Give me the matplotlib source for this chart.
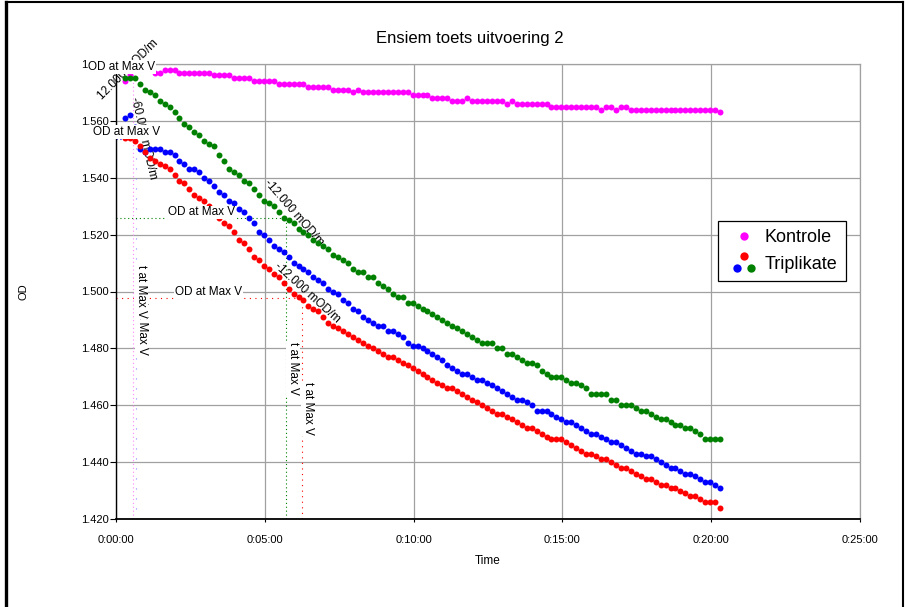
import numpy as np
import matplotlib
matplotlib.use('Agg')
import matplotlib.pyplot as plt
from matplotlib.lines import Line2D
from matplotlib.legend_handler import HandlerBase
from matplotlib.ticker import FuncFormatter, MultipleLocator

plt.rcParams['font.family'] = ['Liberation Sans', 'DejaVu Sans']

# sample times: first read at 18 s, then every 10 s
t_start = 18
t_step = 10

kontrole = [
    1.574, 1.576, 1.578, 1.578, 1.578, 1.578, 1.577, 1.577, 1.578, 1.578,
    1.578, 1.577, 1.577, 1.577, 1.577, 1.577, 1.577, 1.577, 1.576, 1.576,
    1.576, 1.576, 1.575, 1.575, 1.575, 1.575, 1.574, 1.574, 1.574, 1.574,
    1.574, 1.573, 1.573, 1.573, 1.573, 1.573, 1.573, 1.572, 1.572, 1.572,
    1.572, 1.572, 1.571, 1.571, 1.571, 1.571, 1.570, 1.571, 1.570, 1.570,
    1.570, 1.570, 1.570, 1.570, 1.570, 1.570, 1.570, 1.570, 1.569, 1.569,
    1.569, 1.569, 1.568, 1.568, 1.568, 1.568, 1.567, 1.567, 1.567, 1.568,
    1.567, 1.567, 1.567, 1.567, 1.567, 1.567, 1.567, 1.566, 1.567, 1.566,
    1.566, 1.566, 1.566, 1.566, 1.566, 1.566, 1.565, 1.565, 1.565, 1.565,
    1.565, 1.565, 1.565, 1.565, 1.565, 1.565, 1.564, 1.565, 1.565, 1.564,
    1.565, 1.565, 1.564, 1.564, 1.564, 1.564, 1.564, 1.564, 1.564, 1.564,
    1.564, 1.564, 1.564, 1.564, 1.564, 1.564, 1.564, 1.564, 1.564, 1.564,
    1.563]

rep_green = [
    1.575, 1.575, 1.575, 1.573, 1.571, 1.570, 1.569, 1.567, 1.566, 1.565,
    1.563, 1.561, 1.559, 1.558, 1.556, 1.555, 1.553, 1.552, 1.551, 1.548,
    1.546, 1.543, 1.542, 1.541, 1.539, 1.538, 1.536, 1.534, 1.532, 1.531,
    1.530, 1.528, 1.526, 1.525, 1.524, 1.522, 1.521, 1.520, 1.518, 1.517,
    1.516, 1.515, 1.513, 1.512, 1.511, 1.510, 1.508, 1.507, 1.507, 1.505,
    1.505, 1.503, 1.502, 1.501, 1.499, 1.498, 1.498, 1.496, 1.496, 1.495,
    1.494, 1.493, 1.492, 1.491, 1.490, 1.489, 1.488, 1.487, 1.486, 1.485,
    1.484, 1.483, 1.482, 1.482, 1.482, 1.480, 1.480, 1.478, 1.478, 1.477,
    1.476, 1.475, 1.475, 1.474, 1.472, 1.471, 1.470, 1.470, 1.470, 1.469,
    1.468, 1.468, 1.467, 1.466, 1.464, 1.464, 1.464, 1.464, 1.462, 1.462,
    1.460, 1.460, 1.460, 1.459, 1.458, 1.458, 1.457, 1.456, 1.455, 1.455,
    1.454, 1.453, 1.453, 1.452, 1.452, 1.451, 1.450, 1.448, 1.448, 1.448,
    1.448]

rep_blue = [
    1.561, 1.562, 1.558, 1.550, 1.549, 1.550, 1.550, 1.550, 1.549, 1.549,
    1.548, 1.546, 1.545, 1.543, 1.543, 1.542, 1.540, 1.539, 1.537, 1.535,
    1.534, 1.532, 1.531, 1.529, 1.528, 1.526, 1.524, 1.521, 1.520, 1.518,
    1.516, 1.515, 1.514, 1.512, 1.510, 1.509, 1.508, 1.507, 1.505, 1.504,
    1.503, 1.501, 1.500, 1.499, 1.497, 1.496, 1.494, 1.493, 1.491, 1.490,
    1.489, 1.488, 1.488, 1.486, 1.486, 1.485, 1.484, 1.482, 1.481, 1.481,
    1.480, 1.479, 1.478, 1.477, 1.476, 1.474, 1.473, 1.472, 1.471, 1.471,
    1.470, 1.469, 1.469, 1.468, 1.467, 1.466, 1.465, 1.464, 1.463, 1.462,
    1.462, 1.461, 1.460, 1.458, 1.458, 1.458, 1.457, 1.456, 1.455, 1.454,
    1.454, 1.453, 1.452, 1.451, 1.450, 1.450, 1.449, 1.448, 1.447, 1.447,
    1.446, 1.445, 1.444, 1.443, 1.443, 1.442, 1.442, 1.441, 1.440, 1.439,
    1.438, 1.438, 1.437, 1.436, 1.436, 1.435, 1.434, 1.433, 1.433, 1.432,
    1.431]

rep_red = [
    1.554, 1.554, 1.553, 1.551, 1.549, 1.547, 1.546, 1.545, 1.544, 1.543,
    1.541, 1.539, 1.538, 1.536, 1.534, 1.533, 1.532, 1.530, 1.528, 1.526,
    1.524, 1.523, 1.521, 1.518, 1.517, 1.515, 1.512, 1.511, 1.509, 1.508,
    1.506, 1.505, 1.503, 1.501, 1.499, 1.498, 1.497, 1.495, 1.494, 1.493,
    1.491, 1.489, 1.488, 1.487, 1.486, 1.485, 1.484, 1.483, 1.482, 1.481,
    1.480, 1.479, 1.478, 1.477, 1.477, 1.476, 1.475, 1.474, 1.473, 1.472,
    1.471, 1.470, 1.469, 1.468, 1.467, 1.466, 1.466, 1.465, 1.464, 1.463,
    1.462, 1.461, 1.460, 1.459, 1.458, 1.457, 1.457, 1.456, 1.455, 1.454,
    1.453, 1.452, 1.452, 1.451, 1.450, 1.449, 1.448, 1.448, 1.448, 1.447,
    1.446, 1.445, 1.444, 1.443, 1.443, 1.442, 1.441, 1.441, 1.440, 1.439,
    1.438, 1.438, 1.437, 1.436, 1.435, 1.434, 1.434, 1.433, 1.432, 1.432,
    1.431, 1.431, 1.430, 1.429, 1.428, 1.428, 1.427, 1.426, 1.426, 1.426,
    1.424]

PINK = '#ff00ff'
GREEN = '#008000'
BLUE = '#0000ff'
RED = '#ff0000'

# "t at Max V" / "OD at Max V" reference points (seconds, OD)
max_v = {
    'pink': (34, 1.5775),
    'blue': (40, 1.5535),
    'green': (343, 1.5258),
    'red': (374, 1.4978),
}

times = t_start + t_step * np.arange(len(kontrole))


def hms(x, pos):
    x = int(round(x))
    return f'{x // 3600}:{(x % 3600) // 60:02d}:{x % 60:02d}'


class TripleDotHandler(HandlerBase):
    def create_artists(self, legend, orig_handle, xdescent, ydescent,
                       width, height, fontsize, trans):
        cx = 0.5 * width - xdescent
        cy = 0.5 * height - ydescent
        dots = []
        for (dx, dy), c in zip([(-0.3, 4.6), (-5.3, -4.0), (4.8, -4.0)], [RED, BLUE, GREEN]):
            dots.append(Line2D([cx + dx], [cy + dy], marker='o', ls='none', ms=6,
                               color=c, mew=0, transform=trans))
        return dots


fig = plt.figure(figsize=(9.05, 6.07), dpi=100)
ax = fig.add_axes([116 / 905, 1 - 519 / 607, 744 / 905, 455 / 607])

ax.set_xlim(0, 1500)
ax.set_ylim(1.42, 1.58)
ax.xaxis.set_major_locator(MultipleLocator(300))
ax.xaxis.set_major_formatter(FuncFormatter(hms))
ax.yaxis.set_major_locator(MultipleLocator(0.02))
ax.yaxis.set_major_formatter(FuncFormatter(lambda v, p: f'{v:.3f}'))
ax.grid(True, color='#a0a0a0', lw=0.9, zorder=0)
ax.set_axisbelow(True)
for s in ['top', 'right']:
    ax.spines[s].set_color('#a0a0a0')
    ax.spines[s].set_linewidth(0.9)
ax.spines['left'].set_linewidth(1.0)
ax.spines['bottom'].set_linewidth(1.3)
ax.tick_params(axis='y', direction='out', length=4, pad=1, labelsize=8, width=0.8)
ax.tick_params(axis='x', direction='out', length=2.5, pad=9, labelsize=8, width=0.8)

# dotted guide lines
dots = (0, (1, 2.5))
tp, vp = max_v['pink']
ax.vlines(tp, 1.42, 1.58, colors='#ff88ff', linestyles=dots, lw=0.8, zorder=1)
ax.hlines(vp, 0, tp, colors='#ff88ff', linestyles=dots, lw=0.8, zorder=1)
tb, vb = max_v['blue']
ax.vlines(tb, 1.42, vb, colors='#8888ff', linestyles=(0, (1, 8)), lw=0.8, zorder=1)
ax.hlines(vb, 0, tb, colors=BLUE, linestyles=dots, lw=0.8, zorder=1)
tg, vg = max_v['green']
ax.vlines(tg, 1.42, vg, colors=GREEN, linestyles=dots, lw=0.8, zorder=1)
ax.hlines(vg, 0, tg, colors=GREEN, linestyles=dots, lw=0.8, zorder=1)
tr, vr = max_v['red']
ax.vlines(tr, 1.42, vr, colors=RED, linestyles=(0, (1, 4)), lw=0.8, zorder=1)
ax.hlines(vr, 0, tr, colors=RED, linestyles=(0, (1, 4)), lw=0.8, zorder=1)

# slope annotations (under the data)
ann = dict(fontsize=8.5, ha='center', va='center', rotation_mode='anchor', zorder=2)
ax.text(24, 1.5779, '12.000 mOD/m', rotation=45, clip_on=False, **ann)
ax.text(55, 1.5538, '-60.000 mOD/m', rotation=-77, **ann)
ax.text(359, 1.5276, '-12.000 mOD/m', rotation=-49, **ann)
ax.text(385, 1.4996, '-12.000 mOD/m', rotation=-42, **ann)

ms = 4.3
ax.plot(times, kontrole, 'o', color=PINK, ms=ms, mew=0, zorder=3)
ax.plot(times, rep_green, 'o', color=GREEN, ms=ms, mew=0, zorder=3)
ax.plot(times, rep_blue, 'o', color=BLUE, ms=ms, mew=0, zorder=3)
ax.plot(times, rep_red, 'o', color=RED, ms=ms, mew=0, zorder=3)

box = dict(facecolor='white', edgecolor='none', pad=0.5)
lab = dict(fontsize=8.5, ha='left', va='center', bbox=box, zorder=6, clip_on=False)
ax.text(-56, 1.5789, 'OD at Max V', **lab)
ax.text(-46, 1.5561, 'OD at Max V', **lab)
ax.text(105, 1.5278, 'OD at Max V', **lab)
ax.text(119, 1.4998, 'OD at Max V', **lab)

vlab = dict(fontsize=8.5, ha='center', va='top', rotation=-90, bbox=box, zorder=6)
ax.text(52, 1.4963, 't at Max V', **vlab)
ax.text(50, 1.5093, 't at Max V', **vlab)
ax.text(357, 1.4822, 't at Max V', **vlab)
ax.text(387, 1.4682, 't at Max V', **vlab)

ax.set_xlabel('Time', fontsize=8.5)
ax.xaxis.set_label_coords(0.5, -0.08)
ax.set_ylabel('OD', fontsize=8)
ax.yaxis.set_label_coords(-0.118, 0.5)

fig.text(470 / 905, 1 - 38 / 607, 'Ensiem toets uitvoering 2', ha='center', va='center', fontsize=12)

h_k = Line2D([], [], marker='o', ls='none', ms=6, color=PINK, mew=0)
h_t = Line2D([], [], marker='o', ls='none', ms=6, color=RED, mew=0)
leg = ax.legend([h_k, h_t], ['Kontrole', 'Triplikate'], handler_map={h_t: TripleDotHandler()},
                loc='upper left', bbox_to_anchor=((718 - 116) / 744, (519 - 221) / 455),
                borderaxespad=0, fontsize=13, numpoints=1, handlelength=2.0,
                handletextpad=0.15, borderpad=0.45, labelspacing=0.55, fancybox=False,
                framealpha=1, edgecolor='black')
leg.get_frame().set_linewidth(0.9)

# outer frame of the chart image
fig.add_artist(Line2D([5.5 / 905, 5.5 / 905], [0, 1 - 2 / 607], transform=fig.transFigure, color='black', lw=2.4))
fig.add_artist(Line2D([5.5 / 905, 903 / 905], [1 - 2 / 607, 1 - 2 / 607], transform=fig.transFigure, color='black', lw=1.5))
fig.add_artist(Line2D([903 / 905, 903 / 905], [0, 1 - 2 / 607], transform=fig.transFigure, color='black', lw=1.5))

fig.savefig('out.png', dpi=100)
